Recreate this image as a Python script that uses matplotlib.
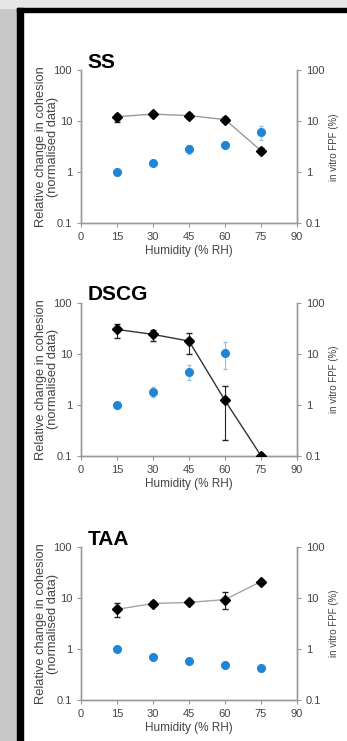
import numpy as np
import matplotlib
matplotlib.use('Agg')
import matplotlib.pyplot as plt
from matplotlib.patches import Rectangle

plt.rcParams['font.family'] = ['Liberation Sans', 'DejaVu Sans']

# --- DATA ---
humidity = [15, 30, 45, 60, 75]

ss_fpf = [12.3, 13.8, 12.9, 10.8, 2.65]
ss_fpf_lo = [9.5, 12.5, 11.5, 9.5, 2.4]
ss_fpf_hi = [14.0, 15.0, 14.5, 12.0, 3.0]
ss_coh = [1.0, 1.54, 2.9, 3.5, 6.2]
ss_coh_lo = [1.0, 1.4, 2.3, 3.0, 4.2]
ss_coh_hi = [1.0, 1.7, 3.5, 4.0, 8.0]

dscg_fpf = [29.9, 23.9, 17.7, 1.21, 0.1]
dscg_fpf_lo = [20.0, 18.0, 10.0, 0.2, 0.1]
dscg_fpf_hi = [38.0, 29.0, 25.0, 2.3, 0.1]
dscg_x_coh = [15, 30, 45, 60]
dscg_coh = [1.0, 1.77, 4.3, 10.5]
dscg_coh_lo = [1.0, 1.4, 3.0, 5.0]
dscg_coh_hi = [1.0, 2.2, 6.0, 17.0]

taa_fpf = [6.0, 7.8, 8.2, 9.3, 21.0]
taa_fpf_lo = [4.2, 7.0, 7.5, 6.2, 19.0]
taa_fpf_hi = [8.0, 8.6, 9.0, 13.0, 23.0]
taa_coh = [1.0, 0.71, 0.58, 0.49, 0.43]

x_ticks = [0, 15, 30, 45, 60, 75, 90]
y_ticks = [0.1, 1, 10, 100]
y_ticklabels = ['0.1', '1', '10', '100']

BLUE = '#1f86d6'
SPINE = '#9a9a9a'
TXT = '#444444'

panels = [
    ("SS", humidity, ss_coh, ss_coh_lo, ss_coh_hi, ss_fpf, ss_fpf_lo, ss_fpf_hi, '#9a9a9a', 0.6987),
    ("DSCG", dscg_x_coh, dscg_coh, dscg_coh_lo, dscg_coh_hi, dscg_fpf, dscg_fpf_lo, dscg_fpf_hi, '#333333', 0.385),
    ("TAA", humidity, taa_coh, taa_coh, taa_coh, taa_fpf, taa_fpf_lo, taa_fpf_hi, '#a5a5a5', 0.0553),
]

fig = plt.figure(figsize=(3.47, 7.41), dpi=100)
W, H = 347.0, 741.0

# photo-like frame around the panels
fig.patches.append(Rectangle((0, 0), 1, 1, transform=fig.transFigure, color='white', zorder=-5))
fig.patches.append(Rectangle((0, 0), 17 / W, 1, transform=fig.transFigure, color='#c8c8c8', zorder=-4))
fig.patches.append(Rectangle((0, 1 - 8 / H), 1, 8 / H, transform=fig.transFigure, color='#e6e6e6', zorder=-4))
fig.patches.append(Rectangle((17 / W, 0), 6 / W, 1 - 8 / H, transform=fig.transFigure, color='black', zorder=-3))
fig.patches.append(Rectangle((17 / W, 1 - 12 / H), 1, 4 / H, transform=fig.transFigure, color='black', zorder=-3))

for title, xc, coh, coh_lo, coh_hi, fpf, fpf_lo, fpf_hi, lcol, bottom in panels:
    ax = fig.add_axes([81 / W, bottom, 216 / W, 0.2065])
    ax2 = ax.twinx()
    for a in (ax, ax2):
        a.set_yscale('log')
        a.set_ylim(0.1, 100)
        a.set_yticks(y_ticks)
        a.set_yticklabels(y_ticklabels)
        a.minorticks_off()
        a.set_xlim(0, 90)
        a.spines['top'].set_visible(False)
        for s in a.spines.values():
            s.set_color(SPINE)
            s.set_linewidth(1.0)
        a.tick_params(colors=SPINE, labelcolor=TXT, labelsize=8, length=3, width=0.8)
        a.patch.set_visible(False)
    ax.set_xticks(x_ticks)

    # cohesion (left axis)
    coh = np.array(coh)
    ax.errorbar(xc, coh, yerr=[coh - np.array(coh_lo), np.array(coh_hi) - coh],
                fmt='o', color=BLUE, ms=5.5, ecolor='#8fc3ec', elinewidth=0.8,
                capsize=1.5, zorder=3)

    # in vitro FPF (right axis)
    fpf = np.array(fpf)
    ax2.plot(humidity, fpf, '-', color=lcol, lw=1.0, zorder=2)
    ax2.errorbar(humidity, fpf, yerr=[fpf - np.array(fpf_lo), np.array(fpf_hi) - fpf],
                 fmt='D', color='black', ms=5, ecolor='#222222', elinewidth=0.8,
                 capsize=2, zorder=4)

    # two-line left label, written as two texts so the lines sit like the original
    ax.text(-0.185, 0.5, "Relative change in cohesion", transform=ax.transAxes,
            rotation=90, ha='center', va='center', fontsize=9.3, color=TXT)
    ax.text(-0.128, 0.5, "(normalised data)", transform=ax.transAxes,
            rotation=90, ha='center', va='center', fontsize=9.3, color=TXT)
    ax2.set_ylabel("in vitro FPF (%)", fontsize=7, color=TXT)
    ax2.yaxis.set_label_coords(1.148, 0.5)
    ax.set_xlabel("Humidity (% RH)", fontsize=8.5, color=TXT, labelpad=2)
    ax.text(0.032, 0.99, title, transform=ax.transAxes, fontsize=15,
            fontweight='bold', ha='left', va='bottom', color='black')

fig.savefig('out.png', dpi=100)
